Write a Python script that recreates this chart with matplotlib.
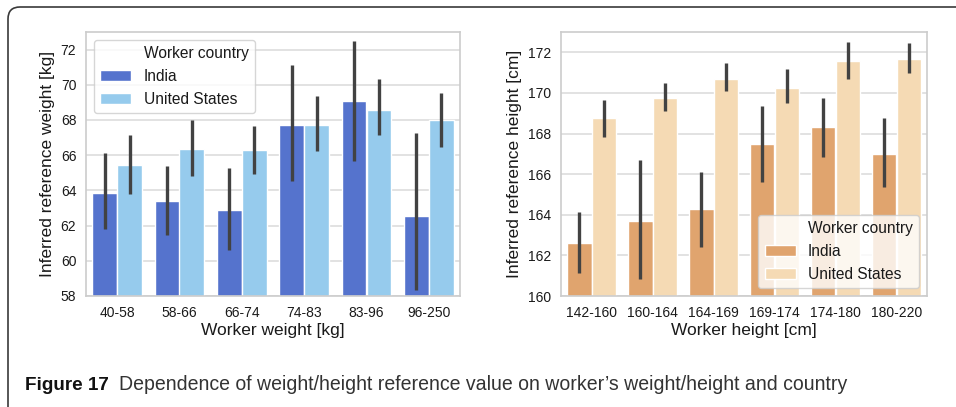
import matplotlib
matplotlib.use("Agg")
import matplotlib.pyplot as plt
import numpy as np
from matplotlib.patches import Rectangle, FancyBboxPatch
from matplotlib.transforms import IdentityTransform

plt.rcParams['font.family'] = ['Liberation Sans', 'DejaVu Sans']

# ---------------- data ----------------
weight_bins = ["40-58", "58-66", "66-74", "74-83", "83-96", "96-250"]
weight_india = [63.83, 63.41, 62.90, 67.69, 69.09, 62.56]
weight_india_lo = [61.82, 61.44, 60.61, 64.55, 65.68, 58.34]
weight_india_hi = [66.10, 65.36, 65.28, 71.11, 72.49, 67.27]
weight_us = [65.45, 66.38, 66.29, 67.69, 68.56, 67.99]
weight_us_lo = [63.79, 64.81, 64.94, 66.25, 67.12, 66.44]
weight_us_hi = [67.16, 67.99, 67.65, 69.37, 70.32, 69.56]

height_bins = ["142-160", "160-164", "164-169", "169-174", "174-180", "180-220"]
height_india = [162.63, 163.68, 164.29, 167.49, 168.33, 167.01]
height_india_lo = [161.12, 160.84, 162.43, 165.63, 166.85, 165.39]
height_india_hi = [164.15, 166.70, 166.12, 169.38, 169.77, 168.75]
height_us = [168.75, 169.75, 170.69, 170.25, 171.56, 171.67]
height_us_lo = [167.83, 169.11, 170.10, 169.49, 170.71, 170.98]
height_us_hi = [169.67, 170.51, 171.45, 171.18, 172.51, 172.48]

countries = ["India", "United States"]
legend_title = "Worker country"

W, H = 956, 407
fig = plt.figure(figsize=(W / 100, H / 100), dpi=100)

TXT = "#1a1a1a"
GRID = "#dddddd"
SPINE = "#cccccc"
ERR = "#424242"


def panel(rect, cats, v1, lo1, hi1, v2, lo2, hi2, colors, ylim, yticks,
          xlabel, ylabel, legloc):
    ax = fig.add_axes(rect)
    x = np.arange(len(cats))
    w = 0.4
    for off, vals, lo, hi, c in ((-w / 2, v1, lo1, hi1, colors[0]),
                                 (w / 2, v2, lo2, hi2, colors[1])):
        ax.bar(x + off, np.array(vals) - ylim[0], width=w, bottom=ylim[0],
               color=c, edgecolor="white", linewidth=1.0, zorder=2)
        ax.vlines(x + off, lo, hi, color=ERR, linewidth=2.4, zorder=3)
    ax.set_xlim(-0.5, len(cats) - 0.5)
    ax.set_ylim(*ylim)
    ax.set_yticks(yticks)
    ax.set_xticks(x)
    ax.set_xticklabels(cats)
    ax.tick_params(length=0, labelsize=10, colors=TXT, pad=7)
    ax.yaxis.grid(True, color=GRID, linewidth=1.2, zorder=0)
    ax.set_axisbelow(True)
    for s in ax.spines.values():
        s.set_color(SPINE)
        s.set_linewidth(1.2)
    ax.set_xlabel(xlabel, fontsize=12.5, color=TXT, labelpad=2)
    ax.set_ylabel(ylabel, fontsize=12.5, color=TXT, labelpad=4)
    handles = [Rectangle((0, 0), 1, 1, visible=False),
               Rectangle((0, 0), 1, 1, facecolor=colors[0], edgecolor="white"),
               Rectangle((0, 0), 1, 1, facecolor=colors[1], edgecolor="white")]
    labels = [legend_title] + countries
    leg = ax.legend(handles, labels, loc=legloc, fontsize=11.2, labelspacing=0.5,
                    framealpha=0.8, edgecolor=SPINE, fancybox=True,
                    borderpad=0.4, handlelength=2.0, handletextpad=0.8)
    for t in leg.get_texts():
        t.set_color(TXT)
    return ax


panel([86 / W, 1 - 296 / H, (460 - 86) / W, 264 / H], weight_bins,
      weight_india, weight_india_lo, weight_india_hi,
      weight_us, weight_us_lo, weight_us_hi,
      ("#5573cd", "#96cbed"), (58, 73), [58, 60, 62, 64, 66, 68, 70, 72],
      "Worker weight [kg]", "Inferred reference weight [kg]", "upper left")

panel([561 / W, 1 - 296 / H, (927 - 561) / W, 264 / H], height_bins,
      height_india, height_india_lo, height_india_hi,
      height_us, height_us_lo, height_us_hi,
      ("#e0a46e", "#f5dab4"), (160, 173), [160, 162, 164, 166, 168, 170, 172],
      "Worker height [cm]", "Inferred reference height [cm]", "lower right")

# rounded outer frame
frame = FancyBboxPatch((8, -20), 990, H - 7 + 20,
                       boxstyle="round,pad=0,rounding_size=12",
                       transform=IdentityTransform(), fill=False,
                       edgecolor="#3a3a3a", linewidth=1.2, clip_on=False)
fig.add_artist(frame)

# caption
cap_font = ['Liberation Sans Narrow', 'Liberation Sans', 'DejaVu Sans']
renderer = fig.canvas.get_renderer()
t1 = fig.text(25 / W, 1 - 390 / H, "Figure 17", fontsize=15, fontweight="bold",
              family=cap_font, color="#111111", va="baseline", ha="left")
bb = t1.get_window_extent(renderer)
t1.set_fontsize(15 * (109 - 25) / bb.width)
t2 = fig.text(119 / W, 1 - 390 / H,
              "Dependence of weight/height reference value on worker\u2019s weight/height and country",
              fontsize=15, family=cap_font, color="#333333", va="baseline", ha="left")
bb = t2.get_window_extent(renderer)
t2.set_fontsize(15 * (850 - 119) / bb.width)

fig.savefig("out.png", dpi=100)
